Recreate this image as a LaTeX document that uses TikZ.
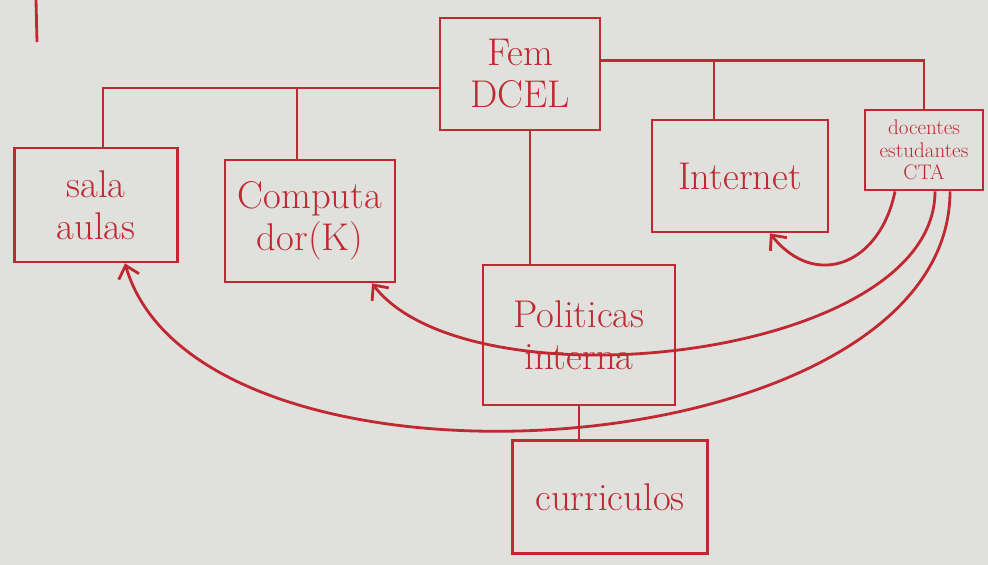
\documentclass[tikz,border=0pt]{standalone}
\usepackage{fontspec}
\usetikzlibrary{arrows.meta}
\definecolor{pen}{RGB}{192,40,50}
\definecolor{paper}{RGB}{224,224,220}
\tikzset{
  box/.style={draw=pen, line width=2.4pt, align=center, text=pen, inner sep=2pt},
  wire/.style={draw=pen, line width=2.4pt},
  arr/.style={draw=pen, line width=2.4pt, -{Straight Barb[length=10pt,width=18pt,line width=2.4pt]}},
  big/.style={font=\fontsize{33}{36}\selectfont},
  small/.style={font=\fontsize{18}{19}\selectfont}
}
\begin{document}
\begin{tikzpicture}[x=0.03cm, y=-0.03cm]
  % paper
  \fill[paper] (0,0) rectangle (988,565);
  \useasboundingbox (0,0) rectangle (988,565);

  % boxes
  \node[box, big, minimum width=4.8cm,  minimum height=3.36cm] (fem)  at (520,74)  {Fem\\DCEL};
  \node[box, big, minimum width=4.89cm, minimum height=3.42cm] (sala) at (96,205)  {sala\\aulas};
  \node[box, big, minimum width=5.1cm,  minimum height=3.66cm] (comp) at (310,221) {Computa\\dor(K)};
  \node[box, big, minimum width=5.28cm, minimum height=3.36cm] (inet) at (740,176) {Internet};
  \node[box, small, minimum width=3.54cm, minimum height=2.4cm, inner sep=1pt] (doc) at (924,150) {docentes\\estudantes\\CTA};
  \node[box, big, minimum width=5.76cm, minimum height=4.2cm] (pol)  at (579,335) {Politicas\\interna};
  \node[box, big, minimum width=5.85cm, minimum height=3.39cm] (cur)  at (610,497) {curriculos};

  % stray pen stroke at the top left
  \draw[wire] (36,0) -- (37,42);

  % left bus from Fem DCEL
  \coordinate (busL) at ([yshift=-0.42cm]fem.west);
  \draw[wire] ([xshift=0.21cm]sala.north) |- (busL);
  \draw[wire] ([xshift=-0.39cm]comp.north) -- ([xshift=-0.39cm]comp.north |- busL);

  % right bus from Fem DCEL
  \coordinate (busR) at ([yshift=0.4cm]fem.east);
  \draw[wire] (busR) -| (doc.north);
  \draw[wire] ([xshift=-0.78cm]inet.north) -- ([xshift=-0.78cm]inet.north |- busR);

  % vertical links
  \draw[wire] ([xshift=0.3cm]fem.south) -- ([xshift=0.3cm]fem.south |- pol.north);
  \draw[wire] (pol.south) -- (cur.north -| pol.south);

  % arrows out of docentes / estudantes
  \draw[arr] ([xshift=-0.87cm]doc.south) .. controls (880,265) and (815,290) .. ([xshift=0.9cm]inet.south);
  \draw[arr] ([xshift=0.33cm]doc.south) .. controls (935,360) and (470,410) .. ([xshift=1.86cm]comp.south);
  \draw[arr] ([xshift=0.78cm]doc.south) .. controls (950,470) and (200,520) .. ([xshift=0.87cm]sala.south);
\end{tikzpicture}
\end{document}
